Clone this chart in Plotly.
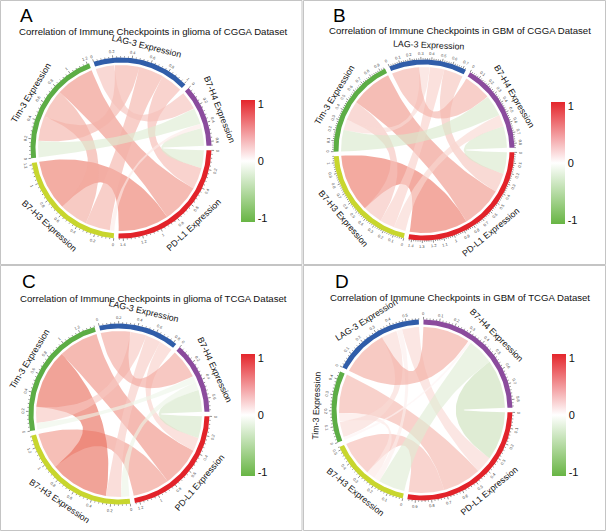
import numpy as np
import plotly.graph_objects as go

W, H = 606, 531

GENES = ["PD-L1", "B7-H3", "Tim-3", "LAG-3", "B7-H4"]
GENE_COLORS = ["#e2232a", "#c8d62e", "#5cad45", "#305da9", "#8b4b9d"]

# gene pairs (indices into GENES), same order in every panel
PAIR_A = [0, 0, 0, 0, 1, 1, 1, 2, 2, 3]
PAIR_B = [1, 2, 3, 4, 2, 3, 4, 3, 4, 4]

# correlation coefficients
R_GLIOMA_CGGA = [0.57, 0.435, 0.245, -0.20, 0.32, 0.28, 0.05, 0.28, -0.185, 0.21]
R_GBM_CGGA = [0.59, 0.425, 0.195, -0.22, 0.20, 0.15, 0.12, 0.105, -0.22, 0.28]
R_GLIOMA_TCGA = [0.41, 0.446, 0.15, -0.245, 0.66, 0.17, -0.09, 0.18, -0.074, 0.33]
R_GBM_TCGA = [0.24, 0.265, 0.115, -0.33, 0.06, 0.04, -0.18, 0.105, 0.02, 0.32]

LETTERS = ["A", "B", "C", "D"]
TITLES = [
    "Correlation of Immune Checkpoints in glioma of CGGA Dataset",
    "Correlation of Immune Checkpoints in GBM of CGGA Dataset",
    "Correlation of Immune Checkpoints in glioma of TCGA Dataset",
    "Correlation of Immune Checkpoints in GBM of TCGA Dataset",
]
TICK_STEP = [0.2, 0.1, 0.2, 0.1]
CORRS = [R_GLIOMA_CGGA, R_GBM_CGGA, R_GLIOMA_TCGA, R_GBM_TCGA]

# layout (pixels)
CENTERS = [(121, 148), (424, 150), (119, 414), (422, 410)]
LETTER_POS = [(18, 3), (331, 3), (20, 269), (333, 269)]
TITLE_POS = [(153, 32), (460, 30), (153, 298), (460, 297)]
CBAR_POS = [(241, 161), (551, 163), (241, 415), (552, 415)]
HALF = 112
GAP = 3.0
R_LINK, R_IN, R_OUT = 83, 85.5, 90.5
FONT = "Liberation Sans, Arial, sans-serif"

CS = [[0, "#68b544"], [0.5, "#ffffff"], [1, "#e4262c"]]


def chord_rgba(r):
    t = min(1.0, abs(r)) ** 0.75
    end = (225, 52, 28) if r > 0 else (135, 186, 96)
    c = [round(255 + t * (e - 255)) for e in end]
    return f"rgba({c[0]},{c[1]},{c[2]},0.62)"


def pt(rad, p):
    # p = clockwise degrees from 3 o'clock
    th = -np.radians(p)
    return rad * np.cos(th), rad * np.sin(th)


def arc(rad, p0, p1, n=40):
    p = np.linspace(p0, p1, n)
    return pt(rad, p)


def bez(p0, p2, n=40):
    t = np.linspace(0, 1, n)[:, None]
    a, b = np.array(p0), np.array(p2)
    pts = (1 - t) ** 2 * a + t ** 2 * b  # control point at centre
    return pts[:, 0], pts[:, 1]


def text_angle(p):
    th = (-p + 180) % 360 - 180
    if th > 0:
        return 90 - th
    return -(90 + th)


fig = go.Figure()
annotations = []
shapes = []
layout_axes = {}

for k in range(4):
    sfx = "" if k == 0 else str(k + 1)
    xr, yr = "x" + sfx, "y" + sfx
    corr = CORRS[k]
    n = len(GENES)
    lookup = {}
    totals = [0.0] * n
    for a, b, r in zip(PAIR_A, PAIR_B, corr):
        lookup[(a, b)] = lookup[(b, a)] = r
        totals[a] += abs(r)
        totals[b] += abs(r)
    scale = (360 - n * GAP) / sum(totals)
    start = []
    p = GAP / 2
    for s in range(n):
        start.append(p)
        p += totals[s] * scale + GAP

    # link slots inside each sector: partners in decreasing index order
    slot = {}
    for s in range(n):
        off = 0.0
        for o in range(n - 1, -1, -1):
            if o == s:
                continue
            w = abs(lookup[(s, o)])
            slot[(s, o)] = (start[s] + off * scale, start[s] + (off + w) * scale)
            off += w

    # chords
    for a, b, r in zip(PAIR_A, PAIR_B, corr):
        a0, a1 = slot[(a, b)]
        b0, b1 = slot[(b, a)]
        xs, ys = [], []
        x1, y1 = arc(R_LINK, a0, a1)
        xs += list(x1); ys += list(y1)
        x2, y2 = bez(pt(R_LINK, a1), pt(R_LINK, b0))
        xs += list(x2); ys += list(y2)
        x3, y3 = arc(R_LINK, b0, b1)
        xs += list(x3); ys += list(y3)
        x4, y4 = bez(pt(R_LINK, b1), pt(R_LINK, a0))
        xs += list(x4); ys += list(y4)
        fig.add_trace(go.Scatter(x=xs, y=ys, mode="lines", fill="toself",
                                 fillcolor=chord_rgba(r), line=dict(width=0),
                                 xaxis=xr, yaxis=yr, hoverinfo="skip", showlegend=False))

    # sector tracks, ticks and labels
    step = TICK_STEP[k]
    tx, ty = [], []
    for s in range(n):
        p0, p1 = start[s], start[s] + totals[s] * scale
        ox, oy = arc(R_OUT, p0, p1, 80)
        ix, iy = arc(R_IN, p1, p0, 80)
        fig.add_trace(go.Scatter(x=list(ox) + list(ix), y=list(oy) + list(iy), mode="lines",
                                 fill="toself", fillcolor=GENE_COLORS[s], line=dict(width=0),
                                 xaxis=xr, yaxis=yr, hoverinfo="skip", showlegend=False))
        minor = step / 5
        m = 0
        while m * minor <= totals[s] + 1e-9:
            v = m * minor
            pp = p0 + v * scale
            major = m % 5 == 0
            ln = 2.6 if major else 1.3
            xa, ya = pt(R_OUT, pp)
            xb, yb = pt(R_OUT + ln, pp)
            tx += [xa, xb, None]
            ty += [ya, yb, None]
            if major:
                lx, ly = pt(R_OUT + 6, pp)
                annotations.append(dict(x=lx, y=ly, xref=xr, yref=yr, text=f"{round(v, 2):g}",
                                        showarrow=False, textangle=text_angle(pp),
                                        font=dict(size=4, color="#444", family=FONT)))
            m += 1
        mid = (p0 + p1) / 2
        lx, ly = pt(R_OUT + 15, mid)
        annotations.append(dict(x=lx, y=ly, xref=xr, yref=yr, text=GENES[s] + " Expression",
                                showarrow=False, textangle=text_angle(mid),
                                font=dict(size=8.8, color="#111", family=FONT)))
    fig.add_trace(go.Scatter(x=tx, y=ty, mode="lines", line=dict(color="#222", width=0.5),
                             xaxis=xr, yaxis=yr, hoverinfo="skip", showlegend=False))

    # colour bar
    cbx, cby = CBAR_POS[k]
    fig.add_trace(go.Scatter(
        x=[1000], y=[1000], mode="markers", xaxis=xr, yaxis=yr, showlegend=False, hoverinfo="skip",
        marker=dict(color=[0], colorscale=CS, cmin=-1.07, cmax=1.07, showscale=True,
                    colorbar=dict(x=cbx / W, y=1 - cby / H, xanchor="left", yanchor="middle",
                                  len=122, lenmode="pixels", thickness=14, thicknessmode="pixels",
                                  tickvals=[-1, 0, 1], ticktext=["-1", "0", "1"], ticks="",
                                  outlinewidth=0, xpad=0, ypad=0,
                                  tickfont=dict(size=11, color="#111", family=FONT))),
    ))

    cx, cy = CENTERS[k]
    layout_axes["xaxis" + sfx] = dict(domain=[(cx - HALF) / W, (cx + HALF) / W], range=[-HALF, HALF],
                                      visible=False, fixedrange=True)
    layout_axes["yaxis" + sfx] = dict(domain=[1 - (cy + HALF) / H, 1 - (cy - HALF) / H],
                                      range=[-HALF, HALF], visible=False, fixedrange=True)

    lx, ly = LETTER_POS[k]
    annotations.append(dict(x=lx / W, y=1 - ly / H, xref="paper", yref="paper", text=LETTERS[k],
                            xanchor="left", yanchor="top", showarrow=False,
                            font=dict(size=19, color="#000", family=FONT)))
    ttx, tty = TITLE_POS[k]
    annotations.append(dict(x=ttx / W, y=1 - tty / H, xref="paper", yref="paper", text=TITLES[k],
                            xanchor="center", yanchor="middle", showarrow=False,
                            font=dict(size=9.6, color="#111", family=FONT)))

# panel frames
for x0, y0, x1, y1 in [(0.5, 0.5, 302, 264.5), (303.5, 0.5, 605.5, 264.5),
                       (0.5, 265.5, 302, 530.5), (303.5, 265.5, 605.5, 530.5)]:
    shapes.append(dict(type="rect", xref="paper", yref="paper", x0=x0 / W, x1=x1 / W,
                       y0=1 - y1 / H, y1=1 - y0 / H, line=dict(color="#c4c4c4", width=1)))

fig.update_layout(width=W, height=H, margin=dict(l=0, r=0, t=0, b=0),
                  paper_bgcolor="white", plot_bgcolor="white",
                  annotations=annotations, shapes=shapes, **layout_axes)

fig.write_html("out.html", config={"displayModeBar": False},
               post_script="document.body.style.margin='0';")
